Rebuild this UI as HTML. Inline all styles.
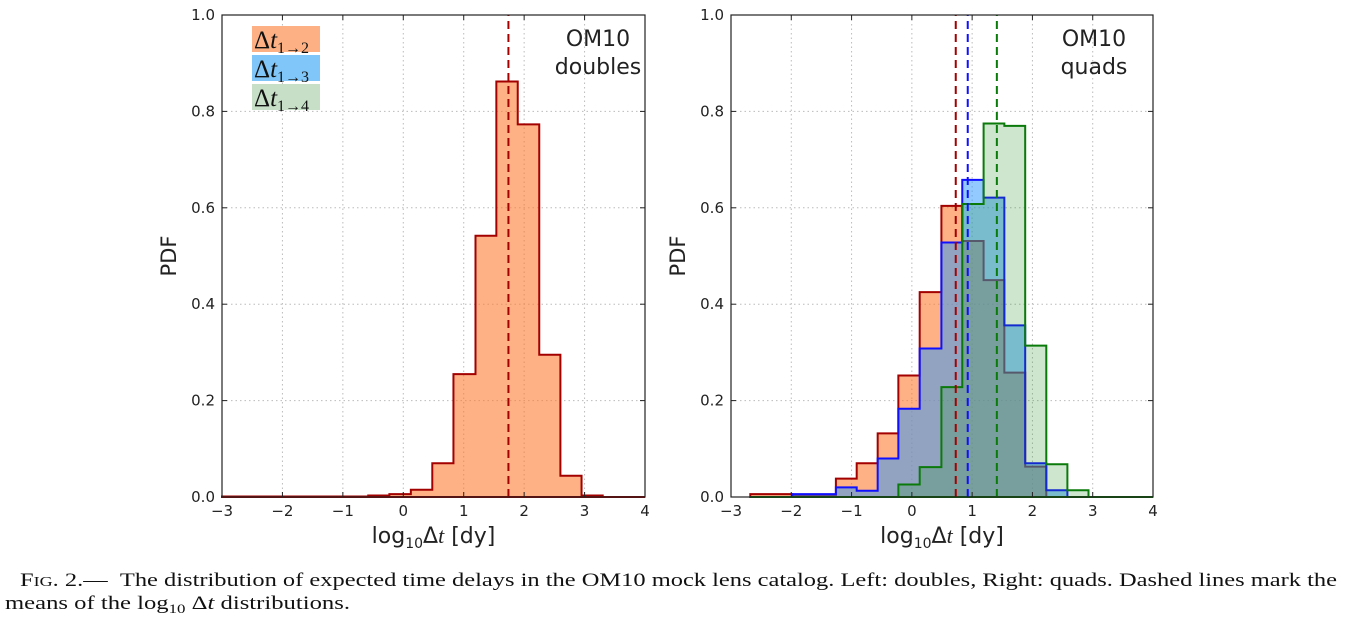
<!DOCTYPE html>
<html><head><meta charset="utf-8"><style>
html,body{margin:0;padding:0;background:#fff;}
svg{display:block;}
.t{font-family:"DejaVu Sans","Liberation Sans",sans-serif;fill:#222;}
.s{font-family:"Liberation Serif","DejaVu Serif",serif;fill:#111;}
</style></head><body>
<svg id="fig" width="1346" height="624" viewBox="0 0 1346 624" xmlns="http://www.w3.org/2000/svg">
<g id="left"></g>
<g id="right"></g>
<g>
<text class="s" x="20" y="586" font-size="19" textLength="1317" lengthAdjust="spacingAndGlyphs">F<tspan font-size="14">IG</tspan>. 2.— &#160;The distribution of expected time delays in the OM10 mock lens catalog. Left: doubles, Right: quads. Dashed lines mark the</text>
<text class="s" x="5" y="609" font-size="19" textLength="345" lengthAdjust="spacingAndGlyphs">means of the log<tspan font-size="13" dy="4">10</tspan><tspan dy="-4"> Δ</tspan><tspan font-style="italic">t</tspan> distributions.</text>
</g>
</svg>
<script>
// ---- data ----
const xTicks = [-3,-2,-1,0,1,2,3,4];
const yTicks = [0,0.2,0.4,0.6,0.8,1.0];
const yTickLabels = ["0.0","0.2","0.4","0.6","0.8","1.0"];
const xTickLabels = ["\u22123","\u22122","\u22121","0","1","2","3","4"];
// doubles histogram
const dblEdges = [-3.0,-0.58,-0.23,0.125,0.48,0.83,1.195,1.54,1.894,2.25,2.6,2.95,3.3,4.0];
const dblVals  = [0.001,0.003,0.006,0.015,0.07,0.255,0.542,0.862,0.773,0.295,0.044,0.003,0.0];
const dblMean = 1.74;
// quads histograms
const qEdges = [-2.68,-2.33,-1.98,-1.62,-1.26,-0.915,-0.567,-0.224,0.13,0.49,0.836,1.19,1.534,1.88,2.23,2.58,2.93,4.0];
const q12Vals = [0.006,0.006,0.004,0.004,0.038,0.07,0.132,0.252,0.425,0.604,0.531,0.45,0.258,0.063,0.0,0.0,0.0];
const q13Vals = [0.0,0.0,0.006,0.006,0.02,0.013,0.08,0.183,0.308,0.528,0.658,0.621,0.356,0.07,0.014,0.0,0.0];
const q14Vals = [0.0,0.0,0.0,0.0,0.0,0.0,0.0,0.026,0.062,0.228,0.608,0.775,0.77,0.314,0.068,0.014,0.0];
const qMeans = [0.728,0.927,1.41];

const NS="http://www.w3.org/2000/svg";
function mk(tag,attrs,parent){const e=document.createElementNS(NS,tag);for(const k in attrs)e.setAttribute(k,attrs[k]);parent.appendChild(e);return e;}

function panel(g,x0,x1,y0,y1,title){
  const xs=v=>x0+(v+3)/7*(x1-x0);
  const ys=v=>y0-(v)*(y0-y1);
  xTicks.forEach(t=>{ if(t>-3&&t<4){const l=mk('line',{x1:xs(t),x2:xs(t),y1:y1,y2:y0,stroke:'#bbb','stroke-dasharray':'1.5,3','stroke-width':1},g);
    
    }});
  yTicks.forEach(t=>{ if(t>0&&t<1){const l=mk('line',{x1:x0,x2:x1,y1:ys(t),y2:ys(t),stroke:'#bbb','stroke-dasharray':'1.5,3','stroke-width':1},g);
    
    }});
  return {xs,ys};
}
function hist(g,sc,edges,vals,fill,stroke,name){
  let d=`M${sc.xs(edges[0])},${sc.ys(0)}`;
  for(let i=0;i<vals.length;i++){d+=` L${sc.xs(edges[i])},${sc.ys(vals[i])} L${sc.xs(edges[i+1])},${sc.ys(vals[i])}`;}
  d+=` L${sc.xs(edges[edges.length-1])},${sc.ys(0)} Z`;
  const p=mk('path',{d:d,fill:fill,stroke:stroke,'stroke-width':2,'stroke-linejoin':'miter'},g);
  
  
}
function meanLine(g,sc,v,color,name){
  const l=mk('line',{x1:sc.xs(v),x2:sc.xs(v),y1:sc.ys(0),y2:sc.ys(1),stroke:color,'stroke-width':2,'stroke-dasharray':'8,5'},g);
  
  
}
function axes(g,x0,x1,y0,y1,sc,title,titleX,showLegend){
  const r=mk('rect',{x:x0,y:y1,width:x1-x0,height:y0-y1,fill:'none',stroke:'#222','stroke-width':1.2},g);
  
  
  xTicks.forEach((t,i)=>{
    const tl=mk('text',{x:sc.xs(t),y:y0+19,'text-anchor':'middle','font-size':15,class:'t'},g);tl.textContent=xTickLabels[i];
    
    
    const tk=mk('line',{x1:sc.xs(t),x2:sc.xs(t),y1:y1,y2:y1+5,stroke:'#222'},g);
    
    
    const tk2=mk('line',{x1:sc.xs(t),x2:sc.xs(t),y1:y0,y2:y0-5,stroke:'#222'},g);
    
    
  });
  yTicks.forEach((t,i)=>{
    const tl=mk('text',{x:x0-7,y:sc.ys(t)+5,'text-anchor':'end','font-size':15,class:'t'},g);tl.textContent=yTickLabels[i];
    
    
    const tk=mk('line',{x1:x1-5,x2:x1,y1:sc.ys(t),y2:sc.ys(t),stroke:'#222'},g);
    
    
    const tk2=mk('line',{x1:x0,x2:x0+5,y1:sc.ys(t),y2:sc.ys(t),stroke:'#222'},g);
    
    
  });
  const yl=mk('text',{x:0,y:0,'font-size':21,class:'t','text-anchor':'middle',transform:`translate(${x0-46},${(y0+y1)/2}) rotate(-90)`},g);yl.textContent='PDF';
  
  
  const xl=mk('text',{x:(x0+x1)/2,y:y0+46,'font-size':22,class:'t','text-anchor':'middle'},g);
  xl.innerHTML='log<tspan font-size="14" dy="5">10</tspan><tspan dy="-5">Δ</tspan><tspan font-family="Liberation Serif" font-style="italic">t</tspan> [dy]';
  
  
  title.forEach((s,i)=>{const tt=mk('text',{x:titleX,y:y1+31+i*28,'font-size':22,class:'t','text-anchor':'middle'},g);tt.textContent=s;
    
    });
  if(showLegend){
    const items=[['2','#fdb083'],['3','#80c6f8'],['4','#c6dfc6']];
    items.forEach((it,i)=>{
      const lg=mk('g',{},g);
      
      
      mk('rect',{x:252,y:26+i*29,width:68,height:26,fill:it[1]},lg);
      const tx=mk('text',{x:254,y:48+i*29,'font-size':25,class:'s'},lg);
      tx.innerHTML='Δ<tspan font-style="italic">t</tspan><tspan font-size="16" dy="5">1→'+it[0]+'</tspan>';
    });
  }
}
const gl=document.getElementById('left');
const L=[222,645,497,15];
const sl=panel(gl,...L);
hist(gl,sl,dblEdges,dblVals,'rgba(252,120,45,0.58)','#a30000','hist-dt12-doubles');
meanLine(gl,sl,dblMean,'#a30000','mean-line-dt12');
axes(gl,...L,sl,['OM10','doubles'],598,true);
const gr=document.getElementById('right');
const R=[731,1153,497,15];
const sr=panel(gr,...R);
hist(gr,sr,qEdges,q12Vals,'rgba(252,120,45,0.58)','#a30000','hist-dt12-quads');
hist(gr,sr,qEdges,q13Vals,'rgba(40,150,255,0.5)','#1010ff','hist-dt13-quads');
hist(gr,sr,qEdges,q14Vals,'rgba(34,139,34,0.22)','#0a7a0a','hist-dt14-quads');
meanLine(gr,sr,qMeans[0],'#a30000','mean-line-dt12');
meanLine(gr,sr,qMeans[1],'#1010ff','mean-line-dt13');
meanLine(gr,sr,qMeans[2],'#0a7a0a','mean-line-dt14');
axes(gr,...R,sr,['OM10','quads'],1094,false);
</script>
</body></html>
